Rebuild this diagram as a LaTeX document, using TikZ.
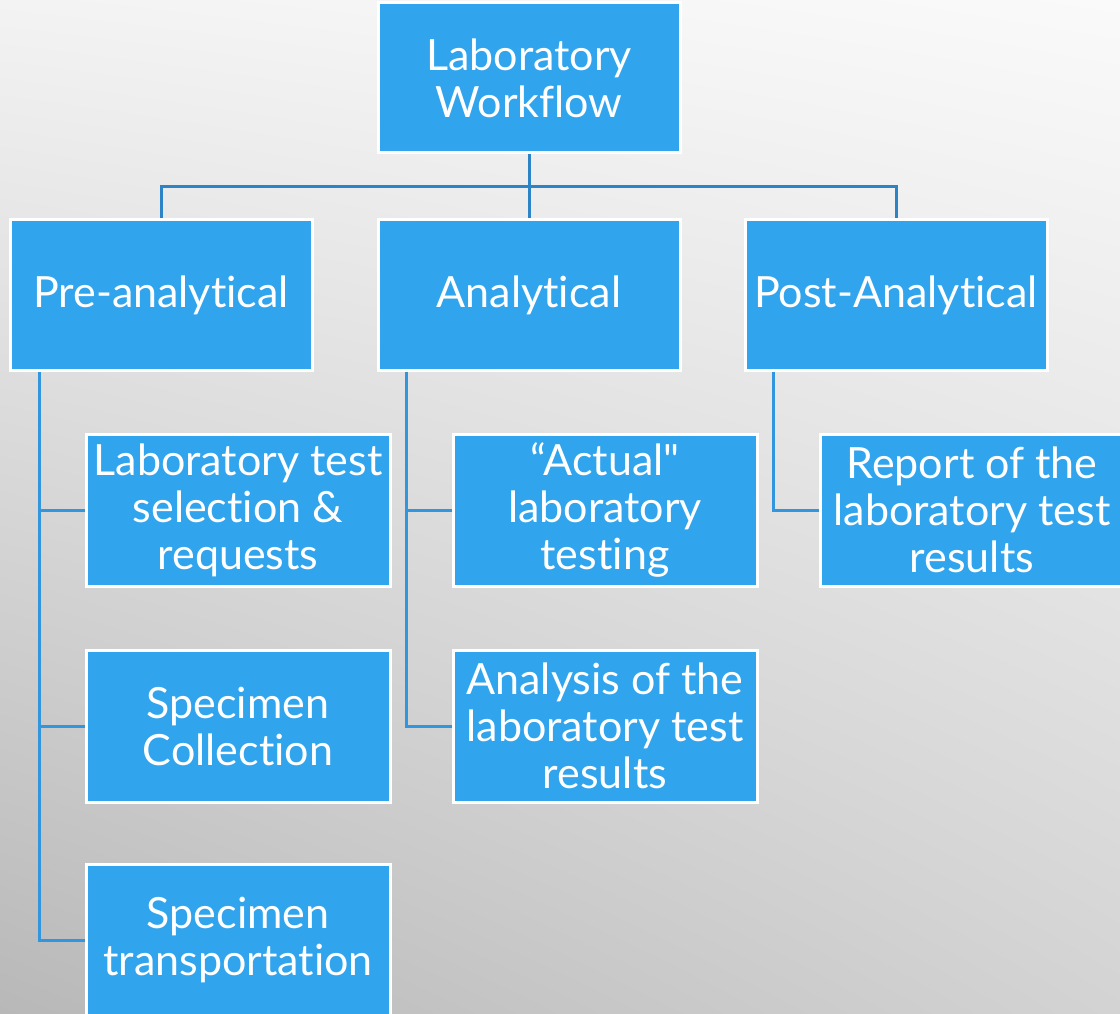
\documentclass[tikz,border=0pt]{standalone}
\usepackage{fontspec}
\setmainfont[Ligatures={TeXOff,NoCommon}]{Lato}
\usetikzlibrary{positioning,shadings}

\definecolor{wfblue}{HTML}{31A4EE}
\definecolor{wfline}{HTML}{2C84C6}
\definecolor{wfside}{HTML}{3196DE}
\definecolor{bgul}{HTML}{F3F3F3}
\definecolor{bgur}{HTML}{FAFAFA}
\definecolor{bgll}{HTML}{B8B8B8}
\definecolor{bglr}{HTML}{D3D3D3}

\begin{document}
\begin{tikzpicture}[x=1pt,y=-1pt,wf node/.style={rectangle,fill=wfblue,draw=white,line width=3pt,text=white,align=center,minimum width=302pt,minimum height=150pt,font=\fontsize{43}{47}\selectfont},top line/.style={draw=wfline,line width=3pt},side line/.style={draw=wfside,line width=3pt}]
  % background
  \useasboundingbox (0,0) rectangle (1120,1014);
  \shade[upper left=bgul,upper right=bgur,lower left=bgll,lower right=bglr] (0,0) rectangle (1120,1014);

  \node[wf node] (lab) at (529,78) {Laboratory\\Workflow};

  \node[wf node] (pre) at (161,295) {Pre-analytical};
  \node[wf node] (ana) at (529,295) {Analytical};
  \node[wf node] (post) at (896,295) {Post-Analytical};

  \node[wf node,minimum width=304pt,minimum height=152pt] (pre1) at (238,510) {Laboratory test\\selection \&\\requests};
  \node[wf node,minimum width=304pt,minimum height=152pt] (pre2) at (238,726) {Specimen\\Collection};
  \node[wf node,minimum width=304pt,minimum height=152pt] (pre3) at (238,940) {Specimen\\transportation};

  \node[wf node,minimum width=304pt,minimum height=152pt] (ana1) at (605,510) {“Actual"\\laboratory\\testing};
  \node[wf node,minimum width=304pt,minimum height=152pt] (ana2) at (605,726) {Analysis of the\\laboratory test\\results};

  \node[wf node,minimum width=304pt,minimum height=152pt] (post1) at (972,510) {Report of the\\laboratory test\\results};

  \coordinate (bar) at (529,187);
  \coordinate (preb) at ([xshift=31pt]pre.south west);
  \coordinate (anab) at ([xshift=30pt]ana.south west);
  \coordinate (postb) at ([xshift=30pt]post.south west);

\path[top line]
  (lab.south) -- (ana.north)
  (bar) -| (pre.north)
  (bar) -| (post.north)
;
\path[side line]
  (preb) |- (pre1.west)
  (preb) |- (pre2.west)
  (preb) |- (pre3.west)
  (anab) |- (ana1.west)
  (anab) |- (ana2.west)
  (postb) |- (post1.west)
;
\end{tikzpicture}
\end{document}
